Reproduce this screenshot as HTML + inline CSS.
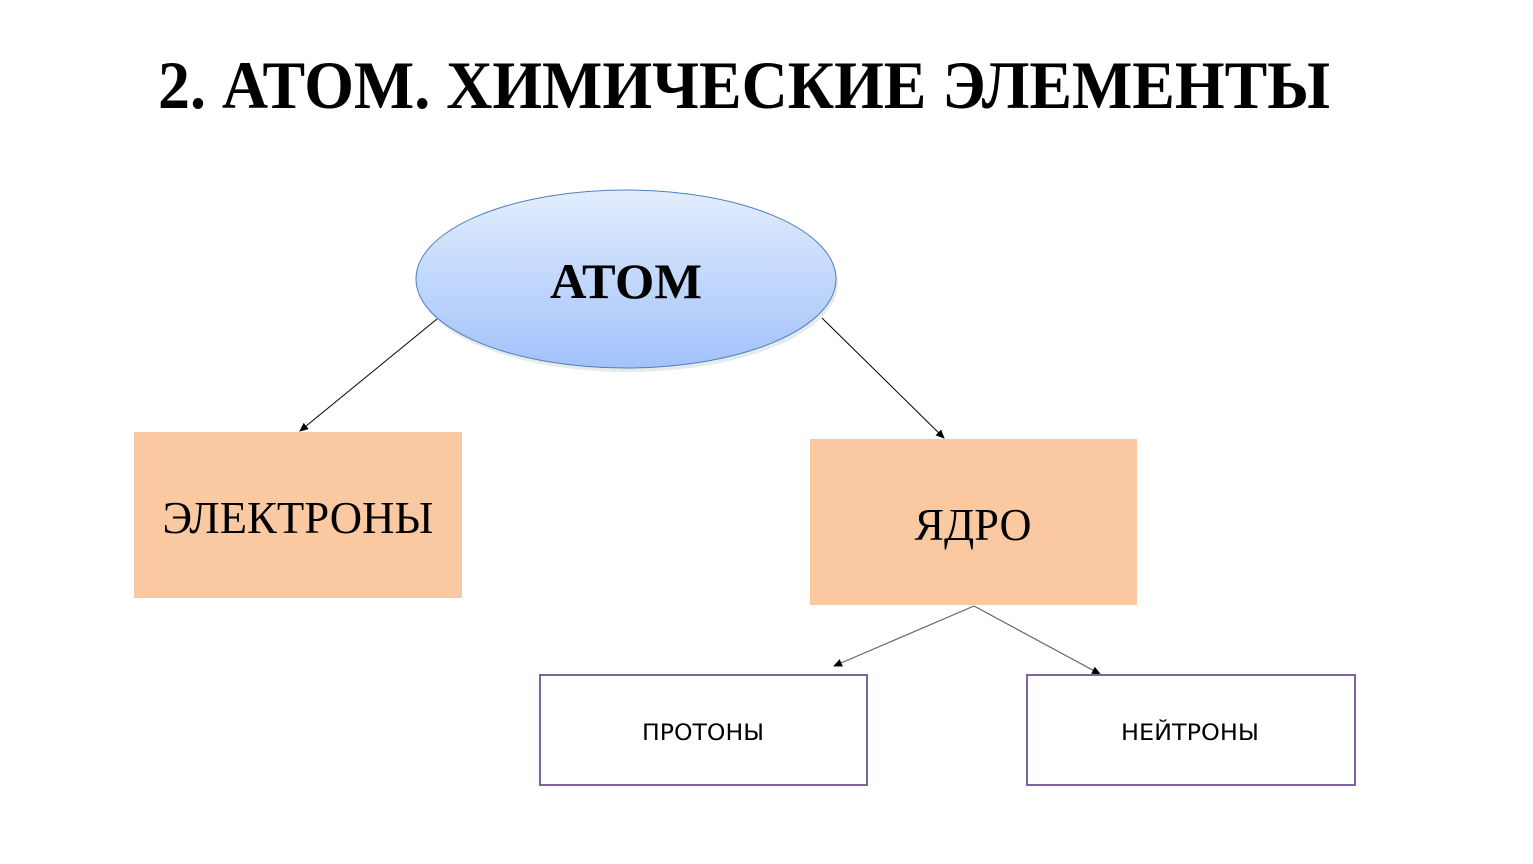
<!DOCTYPE html>
<html><head><meta charset="utf-8"><style>html,body{margin:0;padding:0;background:#fff}svg{display:block}</style></head>
<body>
<svg width="1533" height="864" viewBox="0 0 1533 864" xmlns="http://www.w3.org/2000/svg">
<defs>
<linearGradient id="g" x1="0" y1="0" x2="0" y2="1">
<stop offset="0" stop-color="#e3edfd"/><stop offset="1" stop-color="#a2c2fa"/>
</linearGradient>
<marker id="a" markerWidth="10" markerHeight="10" refX="8" refY="4" orient="auto" markerUnits="userSpaceOnUse">
<path d="M0,0 L9,4 L0,8 z" fill="#000"/></marker>
</defs>
<text x="158" y="108" font-family="Liberation Serif, serif" font-weight="bold" font-size="68" textLength="1172" lengthAdjust="spacingAndGlyphs">2. АТОМ. ХИМИЧЕСКИЕ ЭЛЕМЕНТЫ</text>
<ellipse cx="628" cy="283" rx="210" ry="89" fill="#9aa" opacity="0.25"/>
<ellipse cx="626" cy="279" rx="210" ry="89" fill="url(#g)" stroke="#4f81bd" stroke-width="1"/>
<text x="626" y="298" text-anchor="middle" font-family="Liberation Serif, serif" font-weight="bold" font-size="50" textLength="152" lengthAdjust="spacingAndGlyphs">АТОМ</text>
<line x1="437" y1="319" x2="300" y2="431" stroke="#000" stroke-width="1" marker-end="url(#a)"/>
<line x1="822" y1="318" x2="944" y2="438" stroke="#000" stroke-width="1" marker-end="url(#a)"/>
<rect x="134" y="432" width="328" height="166" fill="#fac9a2"/>
<text x="298" y="533" text-anchor="middle" font-family="Liberation Serif, serif" font-size="46" textLength="271" lengthAdjust="spacingAndGlyphs">ЭЛЕКТРОНЫ</text>
<rect x="810" y="439" width="327" height="166" fill="#fac9a2"/>
<text x="973" y="540" text-anchor="middle" font-family="Liberation Serif, serif" font-size="46" textLength="117" lengthAdjust="spacingAndGlyphs">ЯДРО</text>
<line x1="974" y1="606" x2="834" y2="666" stroke="#666" stroke-width="1.2" marker-end="url(#a)"/>
<line x1="974" y1="606" x2="1100" y2="674" stroke="#666" stroke-width="1.2" marker-end="url(#a)"/>
<rect x="540" y="675" width="327" height="110" fill="#fff" stroke="#8064a2" stroke-width="2"/>
<text x="703" y="740" text-anchor="middle" font-family="DejaVu Sans, sans-serif" font-size="22" textLength="122" lengthAdjust="spacingAndGlyphs">ПРОТОНЫ</text>
<rect x="1027" y="675" width="328" height="110" fill="#fff" stroke="#8064a2" stroke-width="2"/>
<text x="1190" y="740" text-anchor="middle" font-family="DejaVu Sans, sans-serif" font-size="22" textLength="138" lengthAdjust="spacingAndGlyphs">НЕЙТРОНЫ</text>
</svg>
</body></html>
